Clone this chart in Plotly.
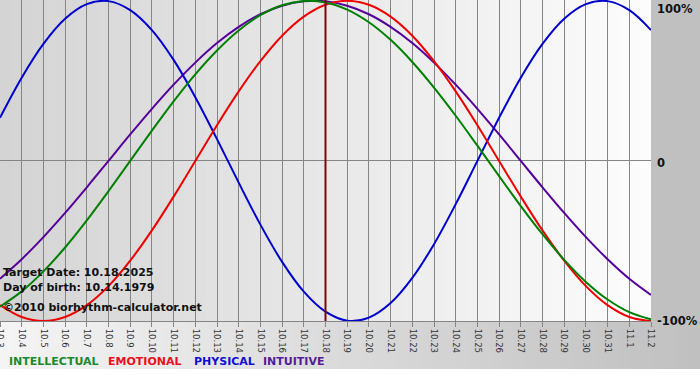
import plotly.graph_objects as go

# ---- data ----
dates = ["10.3", "10.4", "10.5", "10.6", "10.7", "10.8", "10.9", "10.10", "10.11", "10.12",
         "10.13", "10.14", "10.15", "10.16", "10.17", "10.18", "10.19", "10.20", "10.21", "10.22",
         "10.23", "10.24", "10.25", "10.26", "10.27", "10.28", "10.29", "10.30", "10.31", "11.1", "11.2"]

intellectual = [-0.91, -0.815, -0.69, -0.541, -0.372, -0.189, 0.0, 0.189, 0.372, 0.541,
                0.69, 0.815, 0.91, 0.972, 0.999, 0.99, 0.945, 0.866, 0.756, 0.618,
                0.458, 0.282, 0.095, -0.095, -0.282, -0.458, -0.618, -0.756, -0.866, -0.945, -0.99]

emotional = [-0.901, -0.975, -1.0, -0.975, -0.901, -0.782, -0.623, -0.434, -0.223, 0.0,
             0.223, 0.434, 0.623, 0.782, 0.901, 0.975, 1.0, 0.975, 0.901, 0.782,
             0.623, 0.434, 0.223, 0.0, -0.223, -0.434, -0.623, -0.782, -0.901, -0.975, -1.0]

physical = [0.27, 0.52, 0.731, 0.888, 0.979, 0.998, 0.942, 0.817, 0.631, 0.398,
            0.136, -0.136, -0.398, -0.631, -0.817, -0.942, -0.998, -0.979, -0.888, -0.731,
            -0.52, -0.27, 0.0, 0.27, 0.52, 0.731, 0.888, 0.979, 0.998, 0.942, 0.817]

intuitive = [-0.736, -0.614, -0.476, -0.325, -0.165, 0.0, 0.165, 0.325, 0.476, 0.614,
             0.736, 0.837, 0.916, 0.969, 0.997, 0.997, 0.969, 0.916, 0.837, 0.736,
             0.614, 0.476, 0.325, 0.165, 0.0, -0.165, -0.325, -0.476, -0.614, -0.736, -0.837]

target_label = "10.18"
y_tick_vals = [1, 0, -1]
y_tick_text = ["100%", "0", "-100%"]
info_lines = ["Target Date: 10.18.2025", "Day of birth: 10.14.1979", "\u00a92010 biorhythm-calculator.net"]
legend_names = ["INTELLECTUAL", "EMOTIONAL", "PHYSICAL", "INTUITIVE"]

# ---- styling ----
colors = {"INTELLECTUAL": "#008000", "EMOTIONAL": "#ee0000", "PHYSICAL": "#0000cc", "INTUITIVE": "#550099"}
legend_colors = {"INTELLECTUAL": "#1a8a2a", "EMOTIONAL": "#e8101a", "PHYSICAL": "#1010d0", "INTUITIVE": "#551a99"}
FONT = "DejaVu Sans"

W, H = 700, 380
PL, PR, PT, PB = 0, 49, 0, 59
PW = W - PL - PR      # 651
PH = H - PT - PB      # 321

x = list(range(len(dates)))
series = {"INTELLECTUAL": intellectual, "EMOTIONAL": emotional, "PHYSICAL": physical, "INTUITIVE": intuitive}

fig = go.Figure()
for name in ["INTUITIVE", "PHYSICAL", "EMOTIONAL", "INTELLECTUAL"]:
    fig.add_trace(go.Scatter(x=x, y=series[name], mode="lines", name=name,
                             line=dict(color=colors[name], width=2, shape="spline", smoothing=1.0),
                             cliponaxis=False, showlegend=False, hoverinfo="skip"))

shapes = []

def lerp(c1, c2, t):
    return "rgb(%d,%d,%d)" % tuple(round(a + (b - a) * t) for a, b in zip(c1, c2))

# plot-area gradient (grey left -> white right)
N = 60
for k in range(N):
    t = k / (N - 1)
    shapes.append(dict(type="rect", xref="paper", yref="paper", x0=k / N, x1=(k + 1) / N + 0.001,
                       y0=0, y1=1, fillcolor=lerp((212, 212, 212), (252, 252, 252), t),
                       line=dict(width=0), layer="below"))
# bottom band gradient (light left -> grey right)
band_bottom = -(369 - PH) / PH
xr = W / PW
for k in range(N):
    t = k / (N - 1)
    shapes.append(dict(type="rect", xref="paper", yref="paper", x0=k * xr / N, x1=(k + 1) * xr / N + 0.001,
                       y0=band_bottom, y1=0, fillcolor=lerp((244, 244, 244), (192, 192, 192), t),
                       line=dict(width=0), layer="below"))
# right margin
shapes.append(dict(type="rect", xref="paper", yref="paper", x0=1, x1=xr, y0=0, y1=1.01,
                   fillcolor="#c0c0c0", line=dict(width=0), layer="below"))
# target line
ti = dates.index(target_label)
shapes.append(dict(type="line", xref="x", yref="paper", x0=ti, x1=ti, y0=0, y1=1,
                   line=dict(color="#7a0a0a", width=2), layer="above"))

annotations = []
for val, txt in zip(y_tick_vals, y_tick_text):
    if val == 1:
        yy, ya, ys = 1.0, "top", 0
    else:
        yy, ya, ys = (val + 1) / 2, "middle", -2 if val == 0 else 0
    annotations.append(dict(x=1, y=yy, xref="paper", yref="paper", text="<b>%s</b>" % txt,
                            showarrow=False, xanchor="left", yanchor=ya, xshift=4, yshift=ys,
                            font=dict(family=FONT, size=11.5, color="#111")))

info_y = [272, 287, 307]
for txt, py in zip(info_lines, info_y):
    annotations.append(dict(x=0, y=(PH - py) / PH, xref="paper", yref="paper", text="<b>%s</b>" % txt,
                            showarrow=False, xanchor="left", yanchor="middle", xshift=1,
                            font=dict(family=FONT, size=11, color="#111")))

legend_x = [7, 106, 192, 261]
for name, px in zip(legend_names, legend_x):
    annotations.append(dict(x=px / PW, y=-(361 - PH) / PH, xref="paper", yref="paper",
                            text="<b>%s</b>" % name, showarrow=False, xanchor="left", yanchor="middle",
                            font=dict(family=FONT, size=11, color=legend_colors[name])))

fig.update_layout(
    width=W, height=H,
    margin=dict(l=PL, r=PR, t=PT, b=PB, pad=0, autoexpand=False),
    paper_bgcolor="#ffffff", plot_bgcolor="rgba(0,0,0,0)",
    shapes=shapes, annotations=annotations, showlegend=False,
    xaxis=dict(range=[0, len(dates) - 1], tickvals=x, ticktext=dates, tickangle=90,
               showgrid=True, gridcolor="#858585", gridwidth=1,
               ticks="outside", ticklen=5, tickcolor="#858585",
               showline=True, linecolor="#858585", linewidth=1, zeroline=False,
               tickfont=dict(family=FONT, size=8.5, color="#333"), automargin=False,
               ticklabeloverflow="allow"),
    yaxis=dict(range=[-1, 1.005], showgrid=False, showticklabels=False, ticks="",
               zeroline=True, zerolinecolor="#858585", zerolinewidth=1, fixedrange=True,
               automargin=False),
)

fig.write_html("out.html", config={"displayModeBar": False, "staticPlot": True},
               post_script="document.body.style.margin='0';document.body.style.padding='0';")
